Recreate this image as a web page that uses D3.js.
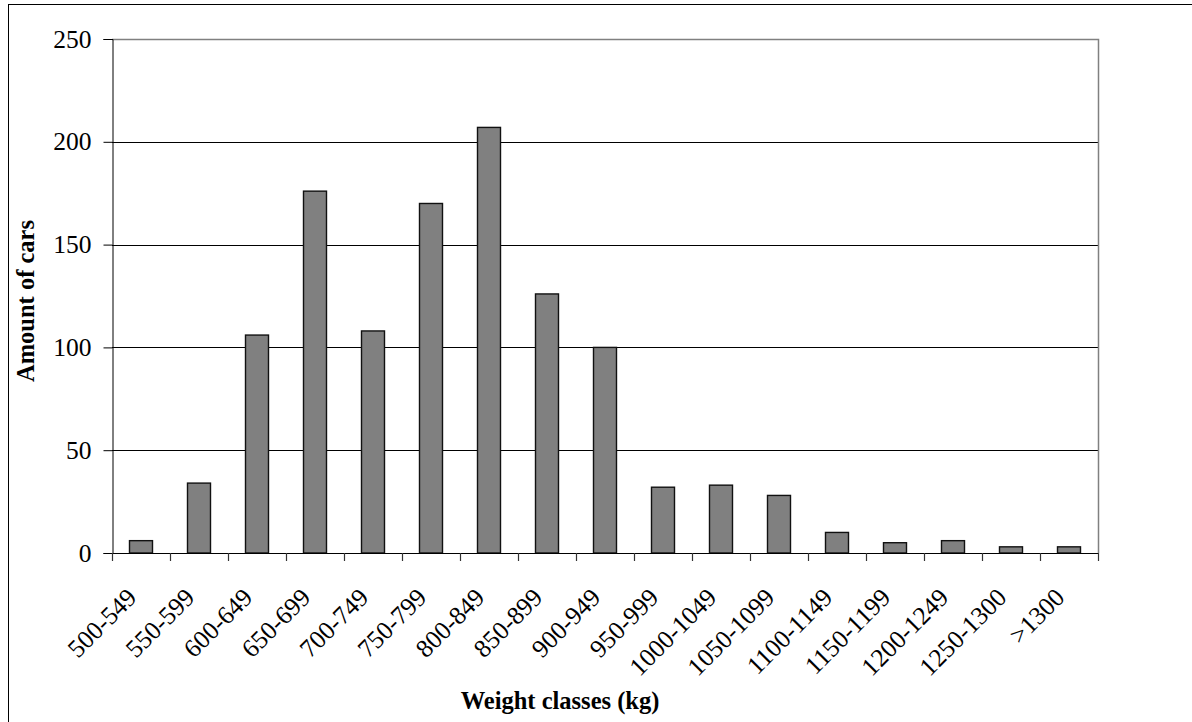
<!DOCTYPE html>
<html>
<head>
<meta charset="utf-8">
<script src="https://cdn.jsdelivr.net/npm/d3@7"></script>
<style>
  html, body { margin: 0; padding: 0; background: #fff; }
  svg { display: block; }
  text { font-family: "Liberation Serif", "Times New Roman", serif; fill: #000; }
</style>
</head>
<body>
<svg id="chart" width="1192" height="722"></svg>
<script>
const categories = ["500-549","550-599","600-649","650-699","700-749","750-799","800-849","850-899","900-949","950-999","1000-1049","1050-1099","1100-1149","1150-1199","1200-1249","1250-1300",">1300"];
const counts = [6, 34, 106, 176, 108, 170, 207, 126, 100, 32, 33, 28, 10, 5, 6, 3, 3];
const yTicks = [0, 50, 100, 150, 200, 250];
const xTitle = "Weight classes (kg)";
const yTitle = "Amount of cars";

(function () {
const svg = d3.select("#chart");
const pL = 112, pR = 1098, pT = 39, pB = 553;

// outer chart border
svg.append("rect").attr("x", 8.5).attr("y", 4.5).attr("width", 1200).attr("height", 730)
  .attr("fill", "none").attr("stroke", "#000").attr("stroke-width", 1);

const xb = d3.scaleBand().domain(categories).range([pL, pR]);
const y = d3.scaleLinear().domain([0, 250]).range([pB, pT]);

// gridlines
svg.append("g").selectAll("line").data(yTicks.filter(d => d > 0 && d < 250)).join("line")
  .attr("x1", pL).attr("x2", pR)
  .attr("y1", d => Math.round(y(d)) + 0.5).attr("y2", d => Math.round(y(d)) + 0.5)
  .attr("stroke", "#000").attr("stroke-width", 1);

// plot area border top & right (gray)
svg.append("path")
  .attr("d", `M${pL},${pT + 0.5}H${pR + 0.5}V${pB}`)
  .attr("fill", "none").attr("stroke", "#808080").attr("stroke-width", 1.5);

// bars
svg.append("g").selectAll("rect").data(counts).join("rect")
  .attr("x", (d, i) => xb(categories[i]) + xb.bandwidth() / 2 - 12 + 0.5)
  .attr("width", 23)
  .attr("y", d => y(d))
  .attr("height", d => y(0) - y(d))
  .attr("fill", "#808080").attr("stroke", "#111").attr("stroke-width", 1.4);

// y axis
const yAxis = d3.axisLeft(y).tickValues(yTicks).tickSize(9).tickPadding(12);
const gy = svg.append("g").attr("transform", `translate(${pL + 0.5},0)`).call(yAxis);
gy.select(".domain").attr("stroke", "#000");
gy.selectAll(".tick line").attr("stroke", "#000");
gy.selectAll(".tick text").style("font-family", "Liberation Serif").style("font-size", "25.5px").attr("fill", "#000");

// x axis
const boundaries = d3.range(categories.length + 1).map(i => pL + i * xb.step());
svg.append("line").attr("x1", pL).attr("x2", pR + 0.5)
  .attr("y1", pB + 0.5).attr("y2", pB + 0.5).attr("stroke", "#000").attr("stroke-width", 1.2);
svg.append("g").selectAll("line").data(boundaries).join("line")
  .attr("x1", d => Math.round(d) + 0.5).attr("x2", d => Math.round(d) + 0.5)
  .attr("y1", pB).attr("y2", pB + 8).attr("stroke", "#333").attr("stroke-width", 1.2);

svg.append("g").selectAll("text").data(categories).join("text")
  .attr("transform", d => `translate(${xb(d) + xb.bandwidth() / 2 - 3},599) rotate(-45)`)
  .attr("text-anchor", "end")
  .style("font-size", "25.5px")
  .text(d => d);

// axis titles
svg.append("text").attr("x", 560).attr("y", 709).attr("text-anchor", "middle")
  .style("font-size", "24.5px").style("font-weight", "bold").text(xTitle);
svg.append("text").attr("transform", `translate(34,${(pT + pB) / 2 + 5}) rotate(-90)`)
  .attr("text-anchor", "middle")
  .style("font-size", "24.5px").style("font-weight", "bold").text(yTitle);
})();
</script>
</body>
</html>
